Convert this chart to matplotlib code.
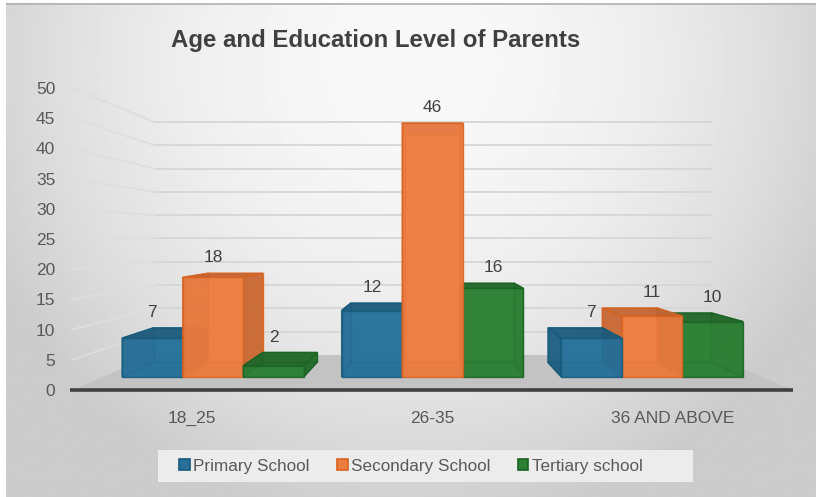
import numpy as np
import matplotlib
matplotlib.use("Agg")
import matplotlib.pyplot as plt
from matplotlib.patches import Polygon, Patch, Rectangle

categories = ["18_25", "26-35", "36 AND ABOVE"]
series = ["Primary School", "Secondary School", "Tertiary school"]
primary = [7, 12, 7]
secondary = [18, 46, 11]
tertiary = [2, 16, 10]
values = [primary, secondary, tertiary]

face_colors = ["#27719a", "#ee7d40", "#2b8034"]
edge_colors = ["#145a7c", "#d8621f", "#1a6322"]

# perspective: points shrink toward a vanishing point as depth goes 0 -> 1
VX, VY, SHRINK = 1.5, 25.4, 0.228
BAR_W = 0.276
D0, D1 = 0.38, 0.79


def proj(c, v, d):
    f = 1 - SHRINK * d
    return (VX + (c - VX) * f, VY + (v - VY) * f)


def shade(hex_color, k):
    rgb = np.array(matplotlib.colors.to_rgb(hex_color))
    return tuple(rgb * k)


fig = plt.figure(figsize=(8.16, 4.97), dpi=100, facecolor="white")

# grey chart panel with a soft radial gradient
bg = fig.add_axes([6 / 816, 0, 810 / 816, 494 / 497])
yy, xx = np.mgrid[0:1:300j, 0:1:500j]
r2 = ((xx - 0.5) / 0.58) ** 2 + ((yy - 0.12) / 0.95) ** 2
img = np.clip(0.975 - 0.18 * r2, 0.8, 0.975)
bg.imshow(img, cmap="gray", vmin=0, vmax=1, aspect="auto", extent=(0, 1, 1, 0))
bg.plot([0, 1], [0.003, 0.003], color="#b0b0b0", lw=1.2)
bg.set_xlim(0, 1)
bg.set_ylim(1, 0)
bg.axis("off")

ax = fig.add_axes([72 / 816, 107 / 497, 721 / 816, 302 / 497])
ax.set_xlim(0, 3)
ax.set_ylim(0, 50)
ax.patch.set_alpha(0)
ax.set_frame_on(False)

# back wall and side wall gridlines
for v in range(5, 55, 5):
    x0, y0 = proj(0, v, 1)
    x1, y1 = proj(3, v, 1)
    ax.plot([x0, x1], [y0, y1], color="#d6d6d6", lw=1.3, zorder=1, clip_on=False)
    xs, ys = proj(0, v, 0)
    ax.plot([xs, x0], [ys, y0], color="#dedede", lw=1.3, zorder=1, clip_on=False)

# floor
floor = [proj(0, 0, 0), proj(3, 0, 0), proj(3, 0, 1), proj(0, 0, 1)]
ax.add_patch(Polygon(floor, closed=True, facecolor="#c3c3c3", edgecolor="none",
                     zorder=2, clip_on=False))
ax.plot([-0.01, 3], [0, 0], color="#404040", lw=2.6, zorder=3, clip_on=False,
        solid_capstyle="butt")

# bars as boxes, drawn from the outside in so nearer faces cover the rest
boxes = []
for g in range(len(categories)):
    for s in range(len(series)):
        c0 = g + 0.5 + (s - 1) * BAR_W - BAR_W / 2
        boxes.append((abs(c0 + BAR_W / 2 - VX), g, s, c0))
boxes.sort(key=lambda b: -b[0])

z = 4
for _, g, s, c0 in boxes:
    c1 = c0 + BAR_W
    v = values[s][g]
    fc = face_colors[s]
    ec = edge_colors[s]
    faces = [
        ([(c0, 0, D1), (c1, 0, D1), (c1, v, D1), (c0, v, D1)], 1.0),   # back
        ([(c0, 0, D0), (c1, 0, D0), (c1, 0, D1), (c0, 0, D1)], 0.9),   # bottom
        ([(c0, 0, D0), (c0, v, D0), (c0, v, D1), (c0, 0, D1)], 0.82),  # left
        ([(c1, 0, D0), (c1, v, D0), (c1, v, D1), (c1, 0, D1)], 0.82),  # right
        ([(c0, v, D0), (c1, v, D0), (c1, v, D1), (c0, v, D1)], 0.8),   # top
        ([(c0, 0, D0), (c1, 0, D0), (c1, v, D0), (c0, v, D0)], 1.0),   # front
    ]
    for pts, k in faces:
        poly = [proj(*p) for p in pts]
        ax.add_patch(Polygon(poly, closed=True, facecolor=shade(fc, k), alpha=0.82,
                             edgecolor=ec, lw=1.0, zorder=z, clip_on=False))
        z += 1

# value labels above each bar
for g in range(len(categories)):
    for s in range(len(series)):
        v = values[s][g]
        cm = g + 0.5 + (s - 1) * BAR_W
        fx, fy = proj(cm, v, D0)
        bx, by = proj(cm, v, D1)
        ax.annotate(str(v), (fx, max(fy, by)), xytext=(0, 11), textcoords="offset points",
                    ha="center", va="center", fontsize=12.5, color="#404040",
                    family="Liberation Sans", zorder=200, annotation_clip=False)

ax.set_yticks(range(0, 55, 5))
ax.set_xticks([g + 0.5 for g in range(len(categories))])
ax.set_xticklabels(categories)
ax.tick_params(axis="y", length=0, pad=12, labelsize=12.5, labelcolor="#595959")
ax.tick_params(axis="x", length=0, pad=15, labelsize=12.5, labelcolor="#595959")
for lab in ax.get_xticklabels() + ax.get_yticklabels():
    lab.set_family("Liberation Sans")

fig.text(376 / 816, 1 - 40 / 497, "Age and Education Level of Parents",
         ha="center", va="center", fontsize=17.3, fontweight="bold", color="#404040",
         family="Liberation Sans")

# legend panel, with the legend entries drawn frameless on top
fig.patches.append(Rectangle((158 / 816, 1 - 482 / 497), 535 / 816, 32 / 497,
                             transform=fig.transFigure, facecolor="#ececec",
                             edgecolor="none", zorder=0.5))
handles = [Patch(facecolor=face_colors[i], edgecolor=edge_colors[i], lw=1.2)
           for i in range(len(series))]
leg = fig.legend(handles, series, loc="center", bbox_to_anchor=(411 / 816, 1 - 466 / 497),
                 ncol=3, frameon=False, handlelength=0.62, handleheight=0.62,
                 handletextpad=0.2, columnspacing=1.6,
                 prop={"family": "Liberation Sans", "size": 12.3})
for t in leg.get_texts():
    t.set_color("#595959")

fig.savefig("out.png", dpi=100, facecolor="white")
